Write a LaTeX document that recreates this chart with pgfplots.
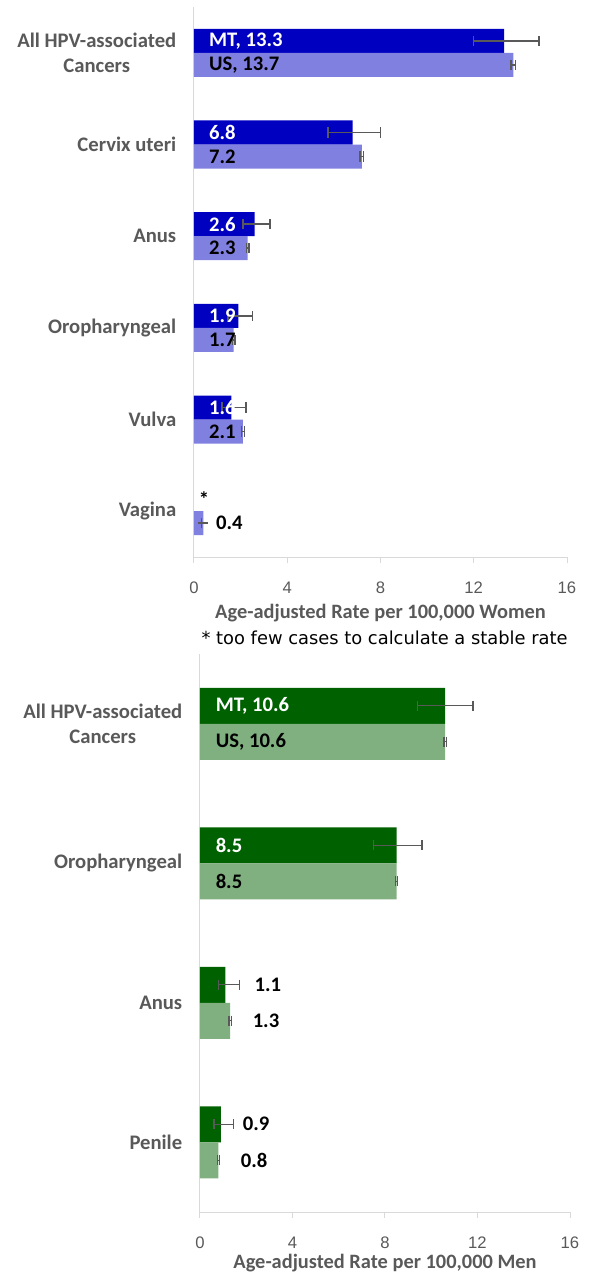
\documentclass[border=0pt]{standalone}
\usepackage{fontspec}
\setmainfont{Carlito}
\newfontfamily\tickfont{Liberation Sans}
\newfontfamily\notefont{DejaVu Sans}
\usepackage{pgfplots}
\pgfplotsset{compat=1.18}
\definecolor{mtblue}{RGB}{0,0,192}
\definecolor{usblue}{RGB}{128,128,224}
\definecolor{mtgreen}{RGB}{0,97,0}
\definecolor{usgreen}{RGB}{128,176,128}
\definecolor{labgray}{RGB}{89,89,89}
\definecolor{axgray}{RGB}{217,217,217}
\definecolor{errgray}{RGB}{89,89,89}
\pgfplotsset{
  hpvaxis/.style={
    scale only axis,
    xmin=0, xmax=16,
    xtick={0,4,8,12,16},
    y dir=reverse,
    axis lines*=left,
    axis line style={draw=axgray, line width=0.75pt},
    tick align=outside,
    major tick length=4.5pt,
    xtick style={draw=axgray, line width=0.75pt},
    ytick style={draw=none},
    /pgf/number format/assume math mode=true,
    xticklabel style={font=\tickfont\fontsize{12.5}{15}\selectfont, text=labgray, yshift=-10.5pt},
    yticklabel style={font=\bfseries\fontsize{15.5}{18.75}\selectfont, text=labgray, align=center, xshift=-5.3pt},
    xlabel style={at={(axis description cs:0.5,0)}, anchor=center, font=\bfseries\fontsize{15.3}{17}\selectfont, text=labgray},
    clip=false,
  },
  errb/.style={error bars/.cd, x dir=both, x explicit,
    error bar style={draw=errgray, line width=1.05pt},
    error mark options={draw=errgray, line width=1.05pt, mark size=3.8pt, rotate=90}},
  lab/.style={draw=none, mark=none, nodes near coords, point meta=explicit symbolic,
    every node near coord/.append style={anchor=west, inner sep=0pt, font=\bfseries\fontsize{15.5}{17}\selectfont}},
}
\begin{document}
\begin{tikzpicture}
\useasboundingbox (0,0) rectangle (446.25pt,-954pt);
% ---------- Women ----------
\begin{axis}[hpvaxis,
  at={(145.5pt,-5.25pt)}, anchor=north west,
  width=279.75pt, height=412.5pt,
  ymin=-0.5, ymax=5.5,
  ytick={0,1,2,3,4,5},
  yticklabels={{All HPV-associated\\Cancers},{Cervix uteri},{Anus},{Oropharyngeal},{Vulva},{Vagina}},
  xlabel={Age-adjusted Rate per 100,000 Women},
  xlabel style={yshift=-42pt},
]
% MT (Montana), bars centred at category - 0.131
\addplot[xbar, bar width=0.262, bar shift=0, fill=mtblue, draw=none, errb] coordinates {
  (13.3,-0.131) += (1.5,0) -= (1.3,0)
  (6.8,0.869) += (1.2,0) -= (1.05,0)
  (2.6,1.869) += (0.66,0) -= (0.5,0)
  (1.9,2.869) += (0.6,0) -= (0.45,0)
  (1.6,3.869) += (0.63,0) -= (0.4,0)
};
% US, bars centred at category + 0.131
\addplot[xbar, bar width=0.262, bar shift=0, fill=usblue, draw=none, errb] coordinates {
  (13.7,0.131) += (0.1,0) -= (0.1,0)
  (7.2,1.131) += (0.08,0) -= (0.08,0)
  (2.3,2.131) += (0.06,0) -= (0.06,0)
  (1.7,3.131) += (0.06,0) -= (0.06,0)
  (2.1,4.131) += (0.07,0) -= (0.07,0)
  (0.4,5.131) += (0.0,0) -= (0.07,0)
};
\addplot[lab, every node near coord/.append style={text=white}] coordinates {
  (0.64,-0.131) [MT, 13.3]
  (0.64,0.869) [6.8]
  (0.64,1.869) [2.6]
  (0.64,2.869) [1.9]
  (0.64,3.869) [1.6]
};
\addplot[lab, every node near coord/.append style={text=black}] coordinates {
  (0.64,0.131) [US, 13.7]
  (0.64,1.131) [7.2]
  (0.64,2.131) [2.3]
  (0.64,3.131) [1.7]
  (0.64,4.131) [2.1]
  (0.94,5.131) [0.4]
  (0.2,4.869) [*]
};
\node[font=\notefont\fontsize{13.4}{16}\selectfont, text=black, anchor=center]
  at (axis description cs:0.511,0) [yshift=-60.75pt] {* too few cases to calculate a stable rate};
\end{axis}
% ---------- Men ----------
\begin{axis}[hpvaxis,
  at={(150pt,-490.5pt)}, anchor=north west,
  width=277.5pt, height=418.5pt,
  ymin=-0.5, ymax=3.5,
  ytick={0,1,2,3},
  yticklabels={{All HPV-associated\\Cancers},{Oropharyngeal},{Anus},{Penile}},
  xlabel={Age-adjusted Rate per 100,000 Men},
  xlabel style={yshift=-38.5pt},
]
\addplot[xbar, bar width=0.258, bar shift=0, fill=mtgreen, draw=none, errb] coordinates {
  (10.6,-0.129) += (1.2,0) -= (1.2,0)
  (8.5,0.871) += (1.1,0) -= (1.0,0)
  (1.1,1.871) += (0.6,0) -= (0.3,0)
  (0.9,2.871) += (0.55,0) -= (0.3,0)
};
\addplot[xbar, bar width=0.258, bar shift=0, fill=usgreen, draw=none, errb] coordinates {
  (10.6,0.129) += (0.05,0) -= (0.05,0)
  (8.5,1.129) += (0.05,0) -= (0.05,0)
  (1.3,2.129) += (0.05,0) -= (0.05,0)
  (0.8,3.129) += (0.04,0) -= (0.04,0)
};
\addplot[lab, every node near coord/.append style={text=white}] coordinates {
  (0.67,-0.129) [MT, 10.6]
  (0.67,0.871) [8.5]
};
\addplot[lab, every node near coord/.append style={text=black}] coordinates {
  (0.67,0.129) [US, 10.6]
  (0.67,1.129) [8.5]
  (2.35,1.871) [1.1]
  (2.27,2.129) [1.3]
  (1.84,2.871) [0.9]
  (1.76,3.129) [0.8]
};
\end{axis}
\end{tikzpicture}
\end{document}
